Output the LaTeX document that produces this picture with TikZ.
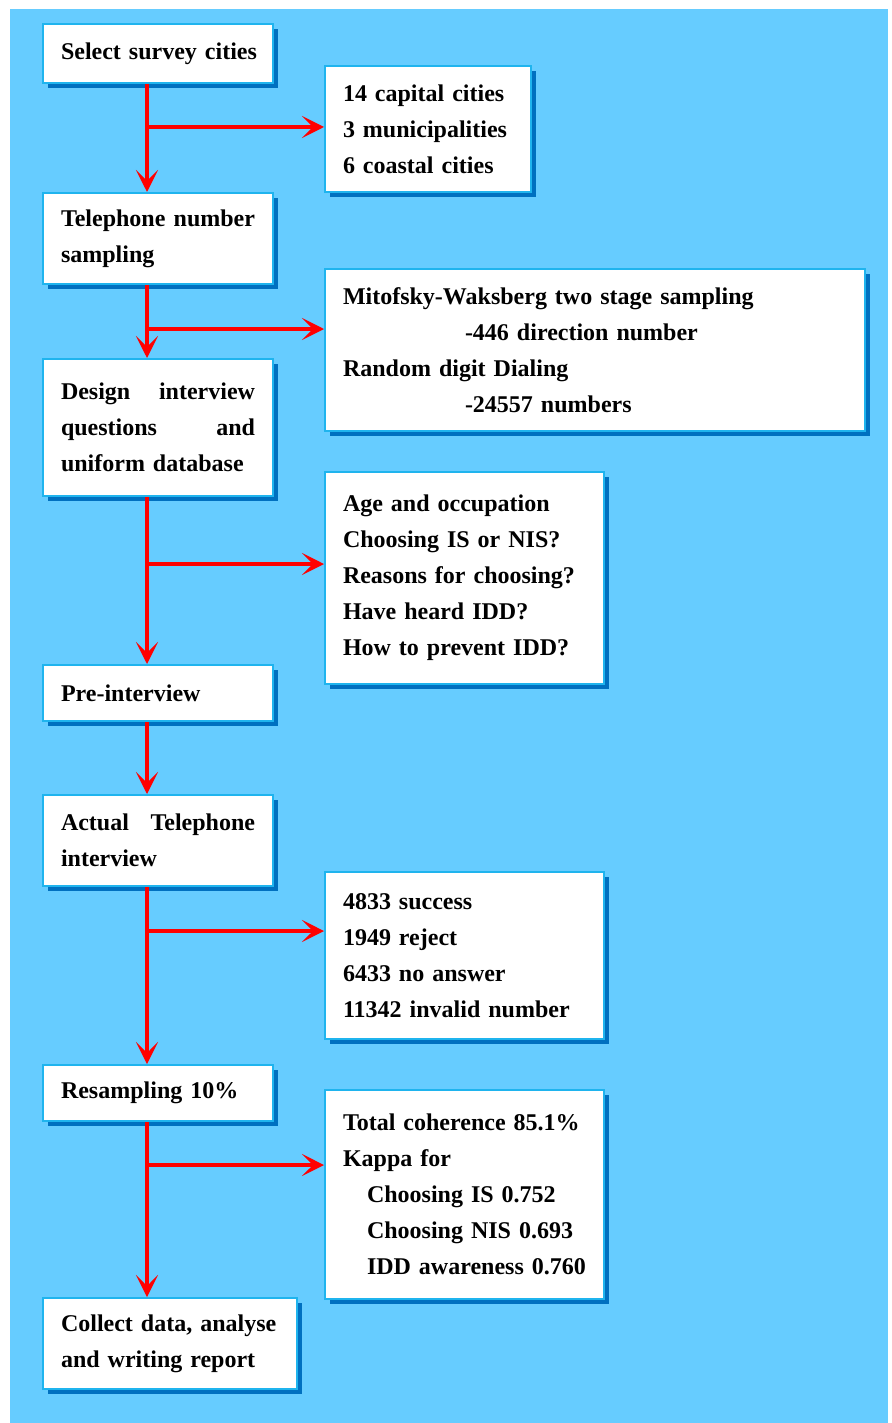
\documentclass[tikz,border=0pt]{standalone}
\usepackage{fontspec}
\setmainfont{Liberation Serif}
\usetikzlibrary{arrows.meta, positioning, shadows}

\definecolor{skyback}{HTML}{66CCFF}
\definecolor{boxline}{HTML}{1FB4EE}
\definecolor{boxshade}{HTML}{0070C0}

\tikzset{
    stepbox/.style={draw=boxline, line width=2pt, fill=white, anchor=north west,
        drop shadow={shadow xshift=5pt, shadow yshift=-5pt, fill=boxshade, opacity=1},
        inner xsep=18pt, inner ysep=0pt, align=left,
        font=\fontsize{24}{36}\selectfont\bfseries},
    flow/.style={draw=red, line width=4pt,
        -{Stealth[length=22pt, width=22pt, inset=11pt]}},
}

\begin{document}
\begin{tikzpicture}[x=1pt, y=-1pt]
        \fill[white] (0,0) rectangle (891,1423);
        \fill[skyback] (10,9) rectangle (888,1423);
        \useasboundingbox (0,0) rectangle (891,1423);
        % main steps
        \node[stepbox, text width=194pt, minimum height=59pt] (sel) at (42,23) {\mbox{Select survey cities}};
        \node[stepbox, text width=194pt, minimum height=91pt] (tel) at (42,192) {Telephone\hfill number\\ sampling};
        \node[stepbox, text width=194pt, minimum height=137pt] (design) at (42,358) {Design\hfill interview\\ questions\hfill and\\ uniform database};
        \node[stepbox, text width=194pt, minimum height=56pt] (pre) at (42,664) {Pre-interview};
        \node[stepbox, text width=194pt, minimum height=91pt] (actual) at (42,794) {Actual\hfill Telephone\\ interview};
        \node[stepbox, text width=194pt, minimum height=56pt] (resamp) at (42,1064) {Resampling 10\%};
        \node[stepbox, text width=218pt, minimum height=91pt] (collect) at (42,1297) {Collect data, analyse\\ and writing report};
        % details
        \node[stepbox, text width=170pt, minimum height=126pt] (cities) at (324,65) {14 capital cities\\ 3 municipalities\\ 6 coastal cities};
        \node[stepbox, text width=504pt, minimum height=162pt] (mito) at (324,268) {Mitofsky-Waksberg two stage sampling\\ \hspace*{122pt}-446 direction number\\ Random digit Dialing\\ \hspace*{122pt}-24557 numbers};
        \node[stepbox, text width=243pt, minimum height=212pt] (quest) at (324,471) {Age and occupation\\ Choosing IS or NIS?\\ Reasons for choosing?\\ Have heard IDD?\\ How to prevent IDD?};
        \node[stepbox, text width=243pt, minimum height=167pt] (result) at (324,871) {4833 success\\ 1949 reject\\ 6433 no answer\\ 11342 invalid number};
        \node[stepbox, text width=243pt, minimum height=209pt] (kappa) at (324,1089) {Total coherence 85.1\%\\ Kappa for\\ \hspace*{24pt}Choosing IS 0.752\\ \hspace*{24pt}Choosing NIS 0.693\\ \hspace*{24pt}IDD awareness 0.760};
        % spine and branches
        \coordinate (spine) at (147,0);
        \coordinate (j1) at (147,127);
        \coordinate (j2) at (147,329);
        \coordinate (j3) at (147,564);
        \coordinate (j5) at (147,931);
        \coordinate (j6) at (147,1165);
        \draw[flow] (sel.south -| spine) -- (tel.north -| spine);
        \draw[flow] (tel.south -| spine) -- (design.north -| spine);
        \draw[flow] (design.south -| spine) -- (pre.north -| spine);
        \draw[flow] (pre.south -| spine) -- (actual.north -| spine);
        \draw[flow] (actual.south -| spine) -- (resamp.north -| spine);
        \draw[flow] (resamp.south -| spine) -- (collect.north -| spine);
        \draw[flow] (j1) -- (j1 -| cities.west);
        \draw[flow] (j2) -- (j2 -| mito.west);
        \draw[flow] (j3) -- (j3 -| quest.west);
        \draw[flow] (j5) -- (j5 -| result.west);
        \draw[flow] (j6) -- (j6 -| kappa.west);
\end{tikzpicture}
\end{document}
